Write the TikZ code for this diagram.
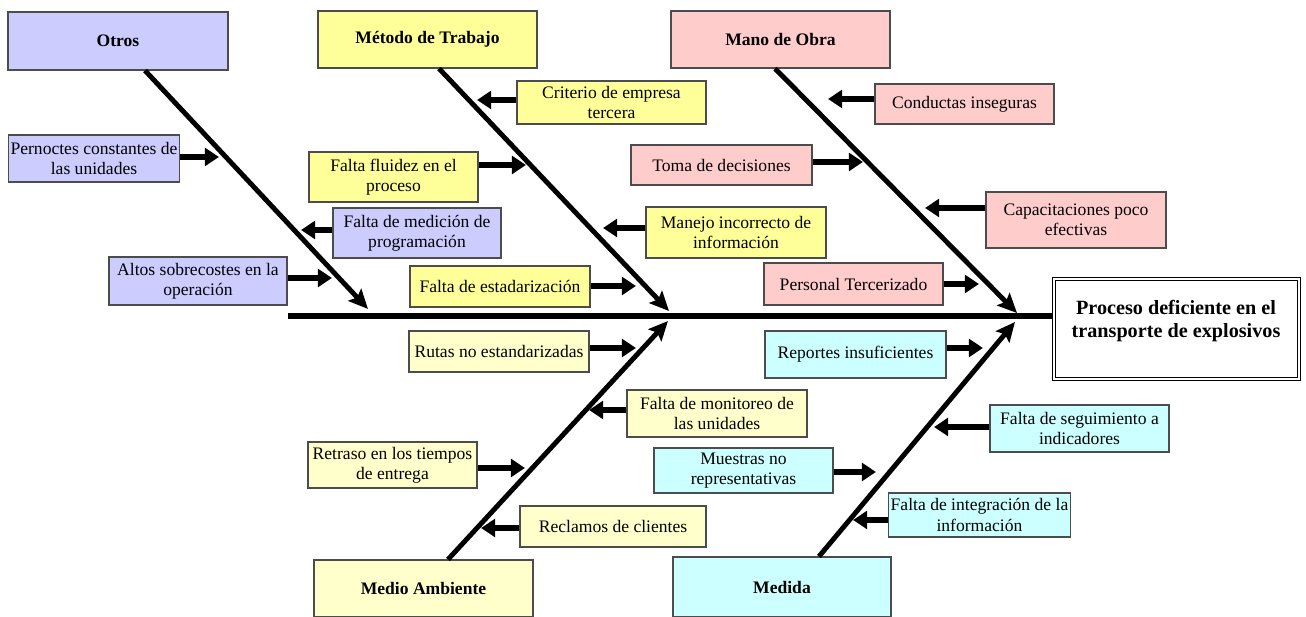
\documentclass[tikz,border=0pt]{standalone}
\usepackage{fontspec}
\setmainfont{Liberation Serif}
\usetikzlibrary{arrows.meta}
\definecolor{otroscol}{HTML}{CCCCFF}
\definecolor{metodocol}{HTML}{FFFF99}
\definecolor{manocol}{HTML}{FFCCCC}
\definecolor{mediocol}{HTML}{FFFFCC}
\definecolor{medidacol}{HTML}{CCFFFF}
\tikzset{
  box/.style 2 args={draw=black!70, line width=0.6pt, inner sep=1pt, align=center,
    minimum width=#1*0.02cm, minimum height=#2*0.02cm,
    font=\fontsize{10}{11.5}\selectfont},
  head/.style={font=\fontsize{10}{12}\selectfont\bfseries},
  effect/.style={draw, double, line width=0.7pt, double distance=1.3pt,
    minimum width=245*0.02cm, minimum height=100*0.02cm},
  bone/.style={line width=2.8pt, -{Stealth[length=11pt,width=10pt,inset=2pt]}},
  twig/.style={line width=3.2pt, -{Triangle[length=8pt,width=10pt]}},
}
\begin{document}
\begin{tikzpicture}[x=0.02cm, y=-0.02cm]
  \useasboundingbox (0,0) rectangle (1306,617);
  % categories
  \path
    (118,41) node[box={220}{58}, fill=otroscol, head] (otros){Otros}
    (427.5,39.5) node[box={219}{57}, fill=metodocol, head] (metodo){Método de Trabajo}
    (780.5,39.5) node[box={219}{57}, fill=manocol, head] (mano){Mano de Obra}
    (423.5,588.5) node[box={219}{57}, fill=mediocol, head] (medio){Medio Ambiente}
    (782,587) node[box={218}{60}, fill=medidacol, head] (medida){Medida};
  % effect
  \path
    (1176.5,329) node[effect] (efecto){}
    (1176,321) node[align=center, font=\fontsize{11.5}{13}\selectfont\bfseries] (efectotxt)
      {Proceso deficiente en el\\transporte de explosivos};
  % causes
  \path
    (94,158.5) node[box={170}{47}, fill=otroscol] (pern){Pernoctes constantes de\\las unidades}
    (417,233) node[box={168}{50}, fill=otroscol] (medic){Falta de medición de\\programación}
    (198,281) node[box={178}{48}, fill=otroscol] (altos){Altos sobrecostes en la\\operación}
    (611.5,102.5) node[box={189}{43}, fill=metodocol] (crit){Criterio de empresa\\tercera}
    (393.5,177) node[box={169}{50}, fill=metodocol] (fluid){Falta fluidez en el\\proceso}
    (736,232.5) node[box={180}{51}, fill=metodocol] (manejo){Manejo incorrecto de\\información}
    (500,286.5) node[box={180}{41}, fill=metodocol] (estand){Falta de estadarización}
    (964.5,104) node[box={179}{40}, fill=manocol] (conduc){Conductas inseguras}
    (721.5,165) node[box={181}{40}, fill=manocol] (toma){Toma de decisiones}
    (1076,220) node[box={180}{56}, fill=manocol] (capac){Capacitaciones poco\\efectivas}
    (853.5,284) node[box={179}{42}, fill=manocol] (pers){Personal Tercerizado}
    (499,351.5) node[box={180}{41}, fill=mediocol] (rutas){Rutas no estandarizadas}
    (717,413.5) node[box={180}{47}, fill=mediocol] (monit){Falta de monitoreo de\\las unidades}
    (392.5,465) node[box={169}{46}, fill=mediocol] (retra){Retraso en los tiempos\\de entrega}
    (613,526.5) node[box={186}{41}, fill=mediocol] (recla){Reclamos de clientes}
    (855.5,354.5) node[box={181}{47}, fill=medidacol] (report){Reportes insuficientes}
    (1079.5,428.5) node[box={179}{47}, fill=medidacol] (segui){Falta de seguimiento a\\indicadores}
    (743.5,470.5) node[box={179}{45}, fill=medidacol] (muest){Muestras no\\representativas}
    (979.5,515) node[box={179}{44}, fill=medidacol] (integ){Falta de integración de la\\información};
  % points on the spine and on the bones
  \coordinate (sL) at (288,316);
  \coordinate (tOtros) at (368,309);
  \coordinate (tMetodo) at (669,311);
  \coordinate (tMano) at (1017,313);
  \coordinate (tMedio) at (668,321);
  \coordinate (tMedida) at (1015,322);
  \coordinate (tPern) at (219,157);
  \coordinate (tMedic) at (301,230);
  \coordinate (tAltos) at (332,278);
  \coordinate (tCrit) at (477,100);
  \coordinate (tFluid) at (526,165);
  \coordinate (tManejo) at (603,228);
  \coordinate (tEstand) at (636,286);
  \coordinate (tConduc) at (828,99);
  \coordinate (tToma) at (863,162);
  \coordinate (tCapac) at (925,208);
  \coordinate (tPers) at (979,284);
  \coordinate (tRutas) at (636,348);
  \coordinate (tMonit) at (589,410);
  \coordinate (tRetra) at (525,468);
  \coordinate (tRecla) at (481,528);
  \coordinate (tReport) at (983,348);
  \coordinate (tSegui) at (934,427);
  \coordinate (tMuest) at (876,472);
  \coordinate (tInteg) at (853,520);
  % spine
  \draw[line width=3pt] (sL) -- (efecto.west |- sL);
  \begin{scope}[bone]
    \draw ([xshift=0.54cm]otros.south) to (tOtros);
    \draw ([xshift=0.23cm]metodo.south) to (tMetodo);
    \draw ([xshift=-0.11cm]mano.south) to (tMano);
    \draw ([xshift=0.49cm]medio.north) to (tMedio);
    \draw ([xshift=0.74cm]medida.north) to (tMedida);
  \end{scope}
  \begin{scope}[twig]
    \draw (pern.east |- tPern) to (tPern);
    \draw (medic.west |- tMedic) to (tMedic);
    \draw (altos.east |- tAltos) to (tAltos);
    \draw (crit.west |- tCrit) to (tCrit);
    \draw (fluid.east |- tFluid) to (tFluid);
    \draw (manejo.west |- tManejo) to (tManejo);
    \draw (estand.east |- tEstand) to (tEstand);
    \draw (conduc.west |- tConduc) to (tConduc);
    \draw (toma.east |- tToma) to (tToma);
    \draw (capac.west |- tCapac) to (tCapac);
    \draw (pers.east |- tPers) to (tPers);
    \draw (rutas.east |- tRutas) to (tRutas);
    \draw (monit.west |- tMonit) to (tMonit);
    \draw (retra.east |- tRetra) to (tRetra);
    \draw (recla.west |- tRecla) to (tRecla);
    \draw (report.east |- tReport) to (tReport);
    \draw (segui.west |- tSegui) to (tSegui);
    \draw (muest.east |- tMuest) to (tMuest);
    \draw (integ.west |- tInteg) to (tInteg);
  \end{scope}
\end{tikzpicture}
\end{document}
